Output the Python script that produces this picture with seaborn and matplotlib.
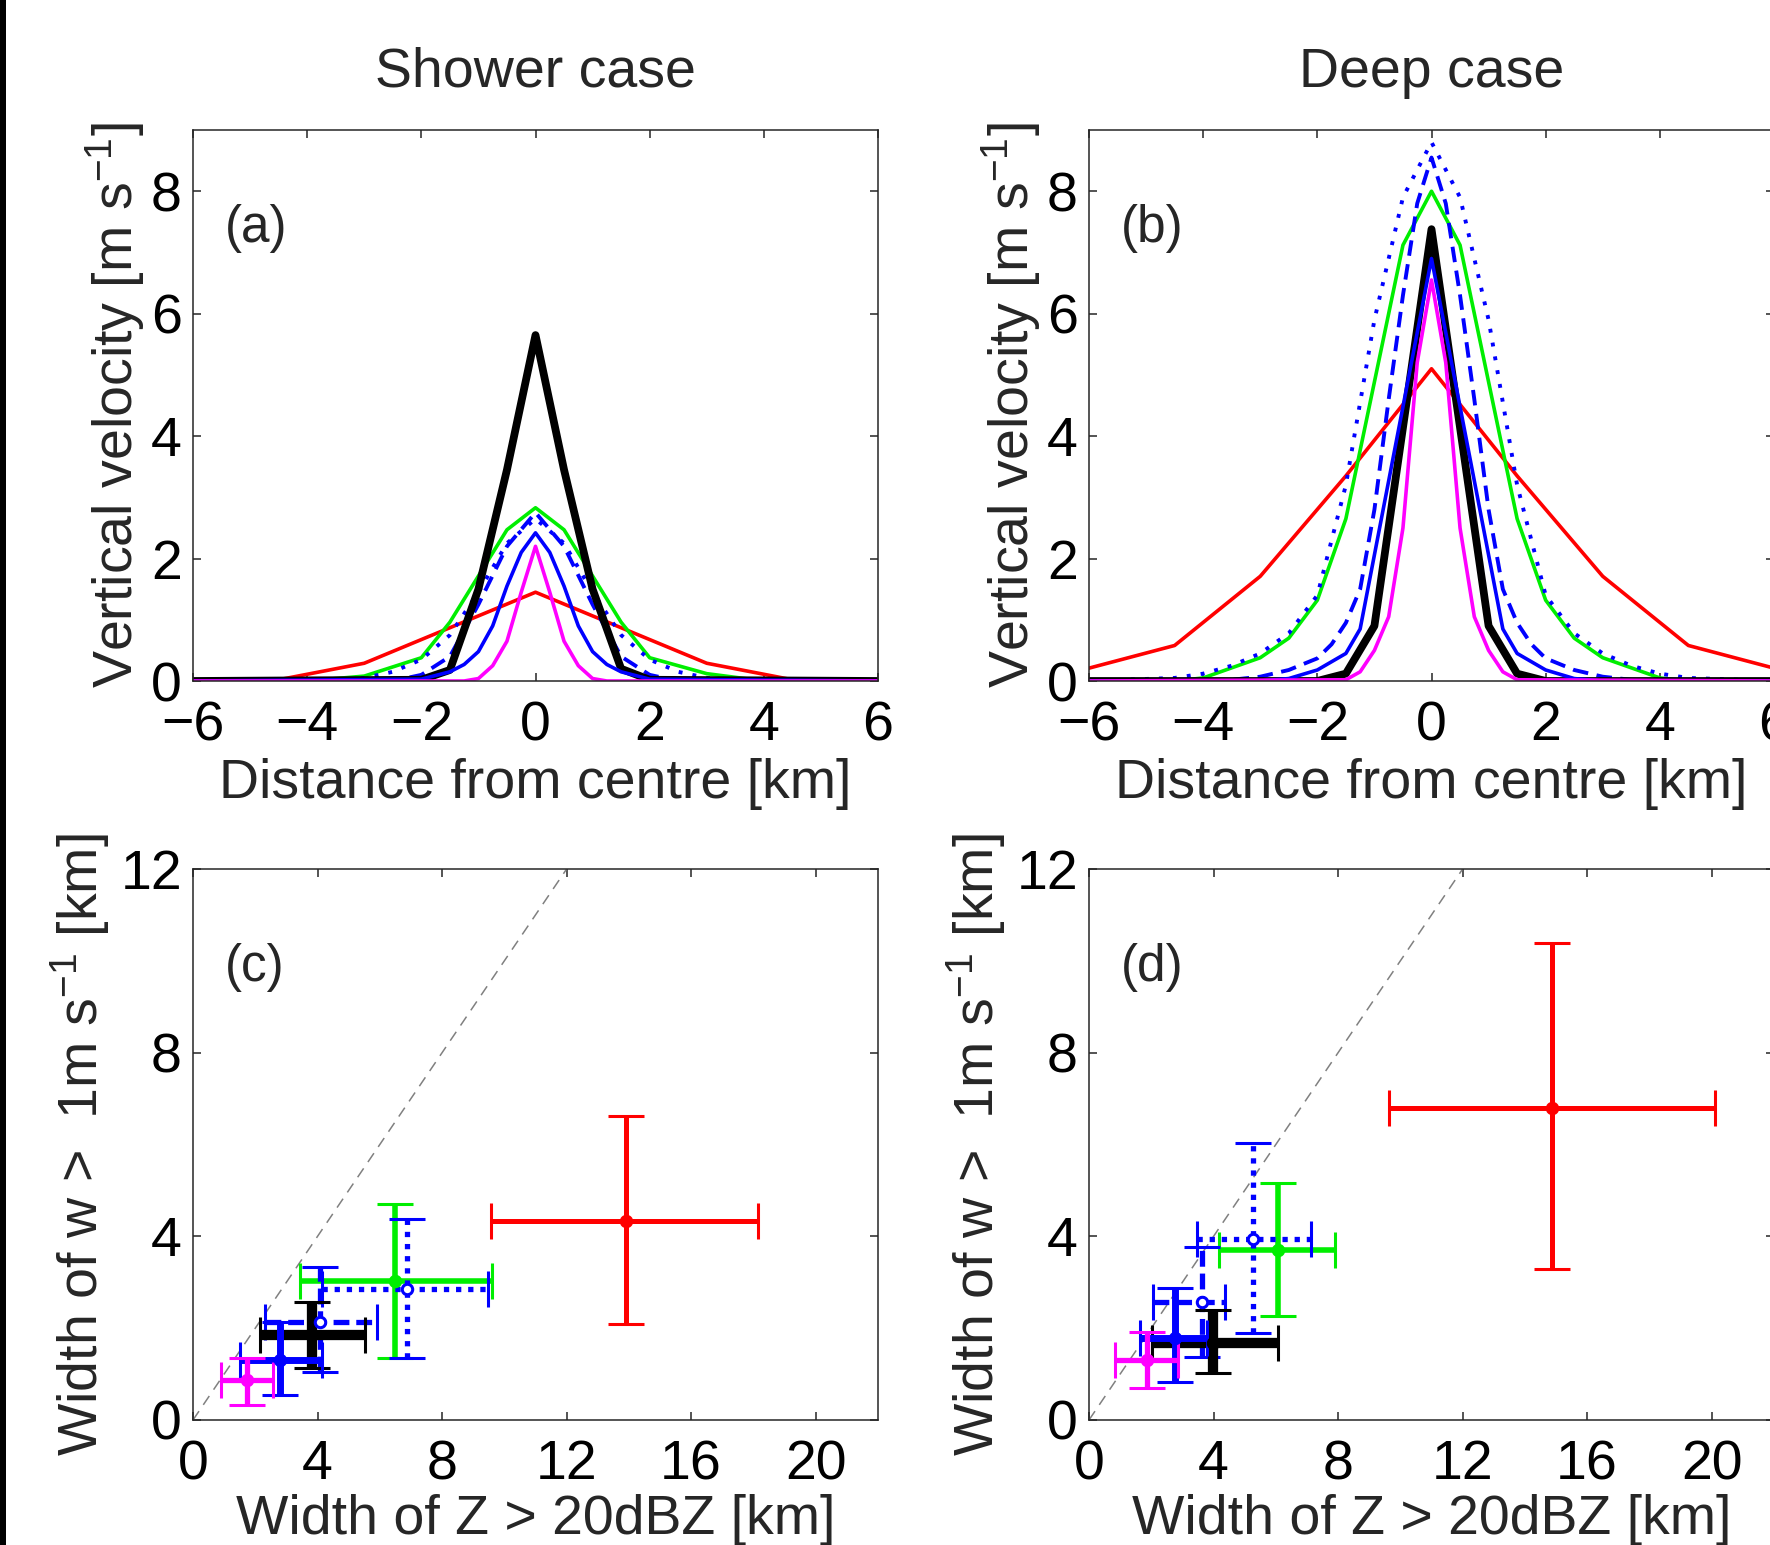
"""
Updraft width comparison: mean vertical-velocity profiles through updraft
centres (top row) and updraft width against reflectivity-core width
(bottom row), for the shower case and the deep case.
"""
import matplotlib
matplotlib.use("Agg")
import matplotlib.pyplot as plt
from matplotlib.patches import Rectangle
import seaborn as sns

# ---------------------------------------------------------------- data ----
# (a) shower case, vertical velocity [m/s] against distance from centre [km]
SH_RED_X = [-6, -4.5, -3, 0, 3, 4.5, 6]
SH_RED_W = [0.0, 0.02, 0.29, 1.45, 0.29, 0.02, 0.0]
SH_GREEN_X = [-6, -4, -3, -2, -1.5, -0.5, 0, 0.5, 1.5, 2, 3, 4, 6]
SH_GREEN_W = [0.0, 0.0, 0.08, 0.38, 0.96, 2.47, 2.83, 2.47, 0.96, 0.38, 0.12, 0.0, 0.0]
SH_DOT_X = [-6, -3.5, -3, -2.5, -2, -1.5, -1, -0.5, 0, 0.5, 1, 1.5, 2, 2.5, 3, 3.5, 6]
SH_DOT_W = [0.0, 0.0, 0.05, 0.15, 0.35, 0.75, 1.45, 2.25, 2.65, 2.25, 1.45, 0.75, 0.35, 0.15, 0.05, 0.0, 0.0]
SH_DASH_X = [-6, -2.5, -2, -1.5, -1, -0.5, 0, 0.5, 1, 1.5, 2, 2.5, 6]
SH_DASH_W = [0.0, 0.0, 0.1, 0.4, 1.25, 2.2, 2.75, 2.2, 1.25, 0.4, 0.1, 0.0, 0.0]
SH_BLACK_X = [-6, -2, -1.5, -1, -0.5, 0, 0.5, 1, 1.5, 2, 6]
SH_BLACK_W = [0.0, 0.02, 0.18, 1.5, 3.45, 5.65, 3.45, 1.5, 0.2, 0.02, 0.0]
SH_BLUE_X = [-6, -2, -1.5, -1.25, -1, -0.75, -0.5, -0.25, 0, 0.25, 0.5, 0.75, 1, 1.25, 1.5, 2, 6]
SH_BLUE_W = [0.0, 0.03, 0.15, 0.27, 0.48, 0.9, 1.55, 2.1, 2.42, 2.1, 1.55, 0.9, 0.48, 0.27, 0.15, 0.03, 0.0]
SH_MAG_X = [-6, -1.25, -1, -0.75, -0.5, -0.25, 0, 0.25, 0.5, 0.75, 1, 1.25, 6]
SH_MAG_W = [0.0, 0.0, 0.04, 0.25, 0.65, 1.45, 2.2, 1.45, 0.65, 0.25, 0.04, 0.0, 0.0]

# (b) deep case
DP_RED_X = [-6, -4.5, -3, -1.5, 0, 1.5, 3, 4.5, 6]
DP_RED_W = [0.21, 0.58, 1.71, 3.35, 5.1, 3.35, 1.71, 0.58, 0.21]
DP_GREEN_X = [-6, -4.5, -4, -3, -2.5, -2, -1.5, -0.5, 0, 0.5, 1.5, 2, 2.5, 3, 4, 4.5, 6]
DP_GREEN_W = [0.0, 0.0, 0.05, 0.38, 0.7, 1.32, 2.65, 7.12, 8.0, 7.12, 2.65, 1.32, 0.7, 0.38, 0.05, 0.0, 0.0]
DP_DOT_X = [-6, -4.5, -4, -3.5, -3, -2.5, -2, -1.5, -1, -0.5, 0, 0.5, 1, 1.5, 2, 2.5, 3, 3.5, 4, 4.5, 6]
DP_DOT_W = [0.0, 0.05, 0.12, 0.25, 0.45, 0.78, 1.4, 3.2, 5.9, 7.9, 8.8, 7.9, 5.9, 3.2, 1.4, 0.78, 0.45, 0.25, 0.12, 0.05, 0.0]
DP_DASH_X = [-6, -3.5, -3, -2.5, -2, -1.75, -1.5, -1.25, -1, -0.75, -0.5, -0.25, 0,
             0.25, 0.5, 0.75, 1, 1.25, 1.5, 1.75, 2, 2.5, 3, 3.5, 6]
DP_DASH_W = [0.0, 0.02, 0.07, 0.18, 0.37, 0.6, 0.95, 1.5, 2.8, 4.6, 6.3, 7.8, 8.55,
             7.8, 6.3, 4.6, 2.8, 1.5, 0.95, 0.6, 0.37, 0.18, 0.07, 0.02, 0.0]
DP_BLACK_X = [-6, -2, -1.5, -1, 0, 1, 1.5, 2, 6]
DP_BLACK_W = [0.0, 0.0, 0.12, 0.9, 7.38, 0.9, 0.12, 0.0, 0.0]
DP_BLUE_X = [-6, -3, -2.5, -2, -1.5, -1.25, 0, 1.25, 1.5, 2, 2.5, 3, 6]
DP_BLUE_W = [0.0, 0.0, 0.04, 0.18, 0.45, 0.85, 6.9, 0.85, 0.45, 0.18, 0.04, 0.0, 0.0]
DP_MAG_X = [-6, -1.5, -1.25, -1, -0.75, -0.5, -0.25, 0, 0.25, 0.5, 0.75, 1, 1.25, 1.5, 6]
DP_MAG_W = [0.0, 0.02, 0.15, 0.5, 1.05, 2.5, 5.2, 6.55, 5.2, 2.5, 1.05, 0.5, 0.15, 0.02, 0.0]

# (c)/(d) widths [km], one entry per run in RUNS order
RUNS = ["red", "green", "dotted", "dashed", "black", "blue", "magenta"]
SH_ZW = [13.92, 6.50, 6.87, 4.08, 3.81, 2.79, 1.72]
SH_ZW_LO = [9.57, 3.43, 4.15, 2.30, 2.15, 1.50, 0.91]
SH_ZW_HI = [18.15, 9.61, 9.47, 5.90, 5.53, 4.13, 2.58]
SH_WW = [4.34, 3.02, 2.85, 2.14, 1.85, 1.31, 0.87]
SH_WW_LO = [2.09, 1.34, 1.34, 1.05, 1.13, 0.54, 0.33]
SH_WW_HI = [6.62, 4.70, 4.37, 3.34, 2.58, 2.14, 1.34]

DP_ZW = [14.88, 6.08, 5.28, 3.62, 3.99, 2.76, 1.85]
DP_ZW_LO = [9.63, 4.18, 3.47, 2.07, 2.01, 1.64, 0.83]
DP_ZW_HI = [20.09, 7.90, 7.14, 4.37, 6.08, 3.78, 2.87]
DP_WW = [6.79, 3.70, 3.95, 2.58, 1.67, 1.78, 1.31]
DP_WW_LO = [3.28, 2.26, 1.90, 1.38, 1.02, 0.83, 0.69]
DP_WW_HI = [10.39, 5.16, 6.03, 3.77, 2.40, 2.87, 1.92]

# ------------------------------------------------------------- styling ----
RUN_STYLE = {
    "red": dict(color="#ff0000", ls="-", lw=2.6),
    "green": dict(color="#00ee00", ls="-", lw=2.6),
    "dotted": dict(color="#0000ff", ls=(0, (1, 2.6)), lw=2.8),
    "dashed": dict(color="#0000ff", ls=(0, (4, 2.2)), lw=2.8),
    "black": dict(color="#000000", ls="-", lw=5.6),
    "blue": dict(color="#0000ff", ls="-", lw=2.6),
    "magenta": dict(color="#ff00ff", ls="-", lw=2.6),
}
BAR_LW = {"red": 3.6, "green": 4.0, "dotted": 3.8, "dashed": 3.8,
          "blue": 5.0, "magenta": 3.8, "black": 7.4}
BAR_LS = {"dotted": (0, (1, 1.3)), "dashed": (0, (3, 1.3))}

FS = 40
SPINE = "#262626"


def setup_style():
    sns.set_theme(style="white", rc={
        "axes.edgecolor": SPINE,
        "axes.linewidth": 1.1,
        "xtick.direction": "in",
        "ytick.direction": "in",
        "xtick.top": True,
        "ytick.right": True,
        "xtick.bottom": True,
        "ytick.left": True,
        "xtick.major.size": 5.8,
        "ytick.major.size": 5.8,
        "xtick.major.width": 1.1,
        "ytick.major.width": 1.1,
        "xtick.color": SPINE,
        "ytick.color": SPINE,
        "xtick.labelcolor": "black",
        "ytick.labelcolor": "black",
    })
    plt.rcParams["font.family"] = ["Liberation Sans", "DejaVu Sans"]
    plt.rcParams["mathtext.fontset"] = "custom"
    plt.rcParams["mathtext.rm"] = "Liberation Sans"
    plt.rcParams["mathtext.default"] = "regular"


def profile_panel(ax, curves, title, label):
    for run, xs, ws in curves:
        st = RUN_STYLE[run]
        sns.lineplot(x=xs, y=ws, ax=ax, color=st["color"], linestyle=st["ls"],
                     linewidth=st["lw"], sort=False)
    ax.set_xlim(-6, 6)
    ax.set_ylim(0, 9)
    ax.set_xticks([-6, -4, -2, 0, 2, 4, 6])
    ax.set_yticks([0, 2, 4, 6, 8])
    ax.set_title(title, fontsize=FS, pad=31)
    ax.set_xlabel("Distance from centre [km]", fontsize=FS, labelpad=4)
    ax.set_ylabel("Vertical velocity [m s$^{-1}$]", fontsize=FS, labelpad=3)
    ax.text(0.047, 0.822, label, transform=ax.transAxes, fontsize=37, va="center", ha="left")


def width_panel(ax, zw, zlo, zhi, ww, wlo, whi, label):
    ax.axline((0, 0), slope=1, color="#808080", lw=1.1, ls=(0, (7, 5)), zorder=1)
    for i, run in enumerate(RUNS):
        st = RUN_STYLE[run]
        open_marker = run in ("dotted", "dashed")
        eb = ax.errorbar(
            [zw[i]], [ww[i]],
            xerr=[[zw[i] - zlo[i]], [zhi[i] - zw[i]]],
            yerr=[[ww[i] - wlo[i]], [whi[i] - ww[i]]],
            fmt="o", color=st["color"], ecolor=st["color"],
            elinewidth=BAR_LW[run], capsize=13, capthick=BAR_LW[run],
            markersize=7.5,
            markerfacecolor="white" if open_marker else st["color"],
            markeredgecolor=st["color"], markeredgewidth=2.2, zorder=3,
        )
        if run in BAR_LS:
            for coll in eb[2]:
                coll.set_linestyle(BAR_LS[run])
    ax.set_xlim(0, 22)
    ax.set_ylim(0, 12)
    ax.set_xticks([0, 4, 8, 12, 16, 20])
    ax.set_yticks([0, 4, 8, 12])
    ax.set_xlabel("Width of Z > 20dBZ [km]", fontsize=FS, labelpad=2)
    ax.set_ylabel("Width of w >  1m s$^{-1}$ [km]", fontsize=FS, labelpad=6)
    ax.text(0.047, 0.822, label, transform=ax.transAxes, fontsize=37, va="center", ha="left")


def finish_axes(ax):
    for side in ["top", "right", "bottom", "left"]:
        ax.spines[side].set_visible(True)
        ax.spines[side].set_color(SPINE)
        ax.spines[side].set_linewidth(1.1)
    ax.tick_params(axis="x", which="major", labelsize=FS, pad=14)
    ax.tick_params(axis="y", which="major", labelsize=FS, pad=8)
    ax.grid(False)


def make_figure():
    setup_style()
    fig = plt.figure(figsize=(17.7, 15.45), dpi=100)
    fig.patch.set_facecolor("white")

    w, h = 685 / 1770, 551 / 1545
    left_a, left_b = 193 / 1770, 1089 / 1770
    bot_top, bot_low = 1 - 681 / 1545, 1 - 1420 / 1545
    ax_a = fig.add_axes([left_a, bot_top, w, h])
    ax_b = fig.add_axes([left_b, bot_top, w, h])
    ax_c = fig.add_axes([left_a, bot_low, w, h])
    ax_d = fig.add_axes([left_b, bot_low, w, h])

    shower_curves = [
        ("red", SH_RED_X, SH_RED_W),
        ("green", SH_GREEN_X, SH_GREEN_W),
        ("dotted", SH_DOT_X, SH_DOT_W),
        ("dashed", SH_DASH_X, SH_DASH_W),
        ("black", SH_BLACK_X, SH_BLACK_W),
        ("blue", SH_BLUE_X, SH_BLUE_W),
        ("magenta", SH_MAG_X, SH_MAG_W),
    ]
    deep_curves = [
        ("red", DP_RED_X, DP_RED_W),
        ("green", DP_GREEN_X, DP_GREEN_W),
        ("dotted", DP_DOT_X, DP_DOT_W),
        ("dashed", DP_DASH_X, DP_DASH_W),
        ("black", DP_BLACK_X, DP_BLACK_W),
        ("blue", DP_BLUE_X, DP_BLUE_W),
        ("magenta", DP_MAG_X, DP_MAG_W),
    ]
    profile_panel(ax_a, shower_curves, "Shower case", "(a)")
    profile_panel(ax_b, deep_curves, "Deep case", "(b)")
    width_panel(ax_c, SH_ZW, SH_ZW_LO, SH_ZW_HI, SH_WW, SH_WW_LO, SH_WW_HI, "(c)")
    width_panel(ax_d, DP_ZW, DP_ZW_LO, DP_ZW_HI, DP_WW, DP_WW_LO, DP_WW_HI, "(d)")
    for ax in (ax_a, ax_b, ax_c, ax_d):
        finish_axes(ax)

    # dark strip along the left edge of the original page
    fig.add_artist(Rectangle((0, 0), 6 / 1770, 1, transform=fig.transFigure,
                             facecolor="black", edgecolor="none"))
    return fig


def main():
    fig = make_figure()
    fig.savefig("out.png", dpi=100, facecolor="white")
    plt.close(fig)


if __name__ == "__main__":
    main()
